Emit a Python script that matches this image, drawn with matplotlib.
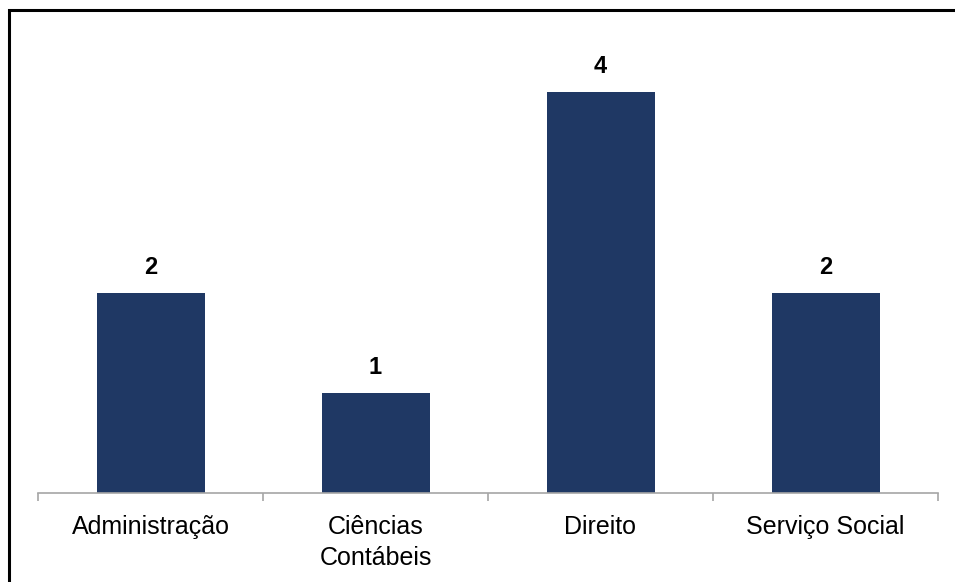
import matplotlib

matplotlib.use("Agg")
import matplotlib.pyplot as plt
from matplotlib.patches import Rectangle

plt.rcParams["font.family"] = ["Liberation Sans", "DejaVu Sans"]

# Data
cursos = ["Administração", "Ciências\nContábeis", "Direito", "Serviço Social"]
quantidade = [2, 1, 4, 2]

C_BAR = "#1F3864"
C_AXIS = "#A6A6A6"

fig = plt.figure(figsize=(9.55, 5.82), dpi=100)
ax = fig.add_axes([38 / 955, 89 / 582, 900 / 955, 451 / 582])

x = range(len(cursos))
ax.bar(x, quantidade, width=0.48, color=C_BAR)
for i, v in zip(x, quantidade):
    ax.annotate(str(v), (i, v), xytext=(0, 10), textcoords="offset points",
                ha="center", va="bottom", fontsize=17, fontweight="bold")

ax.set_xlim(-0.5, len(cursos) - 0.5)
ax.set_ylim(0, 4.5)
ax.set_yticks([])
for side in ("top", "right", "left"):
    ax.spines[side].set_visible(False)
ax.spines["bottom"].set_color(C_AXIS)
ax.spines["bottom"].set_linewidth(1.2)

# tick marks sit between categories, labels at the centres
ax.set_xticks([i - 0.5 for i in range(len(cursos) + 1)])
ax.set_xticklabels([])
ax.set_xticks(list(x), minor=True)
ax.set_xticklabels(cursos, minor=True, fontsize=18, linespacing=1.35)
ax.tick_params(axis="x", which="major", direction="out", length=6,
               color=C_AXIS, width=1.2)
ax.tick_params(axis="x", which="minor", length=0, pad=16)

# outer frame (only left and top edges fall inside the image)
fig.patches.append(Rectangle((9 / 955, -0.5), 2, 1.5 - 10 / 582,
                             transform=fig.transFigure, fill=False,
                             edgecolor="black", linewidth=2.2))

fig.savefig("out.png", dpi=100)
